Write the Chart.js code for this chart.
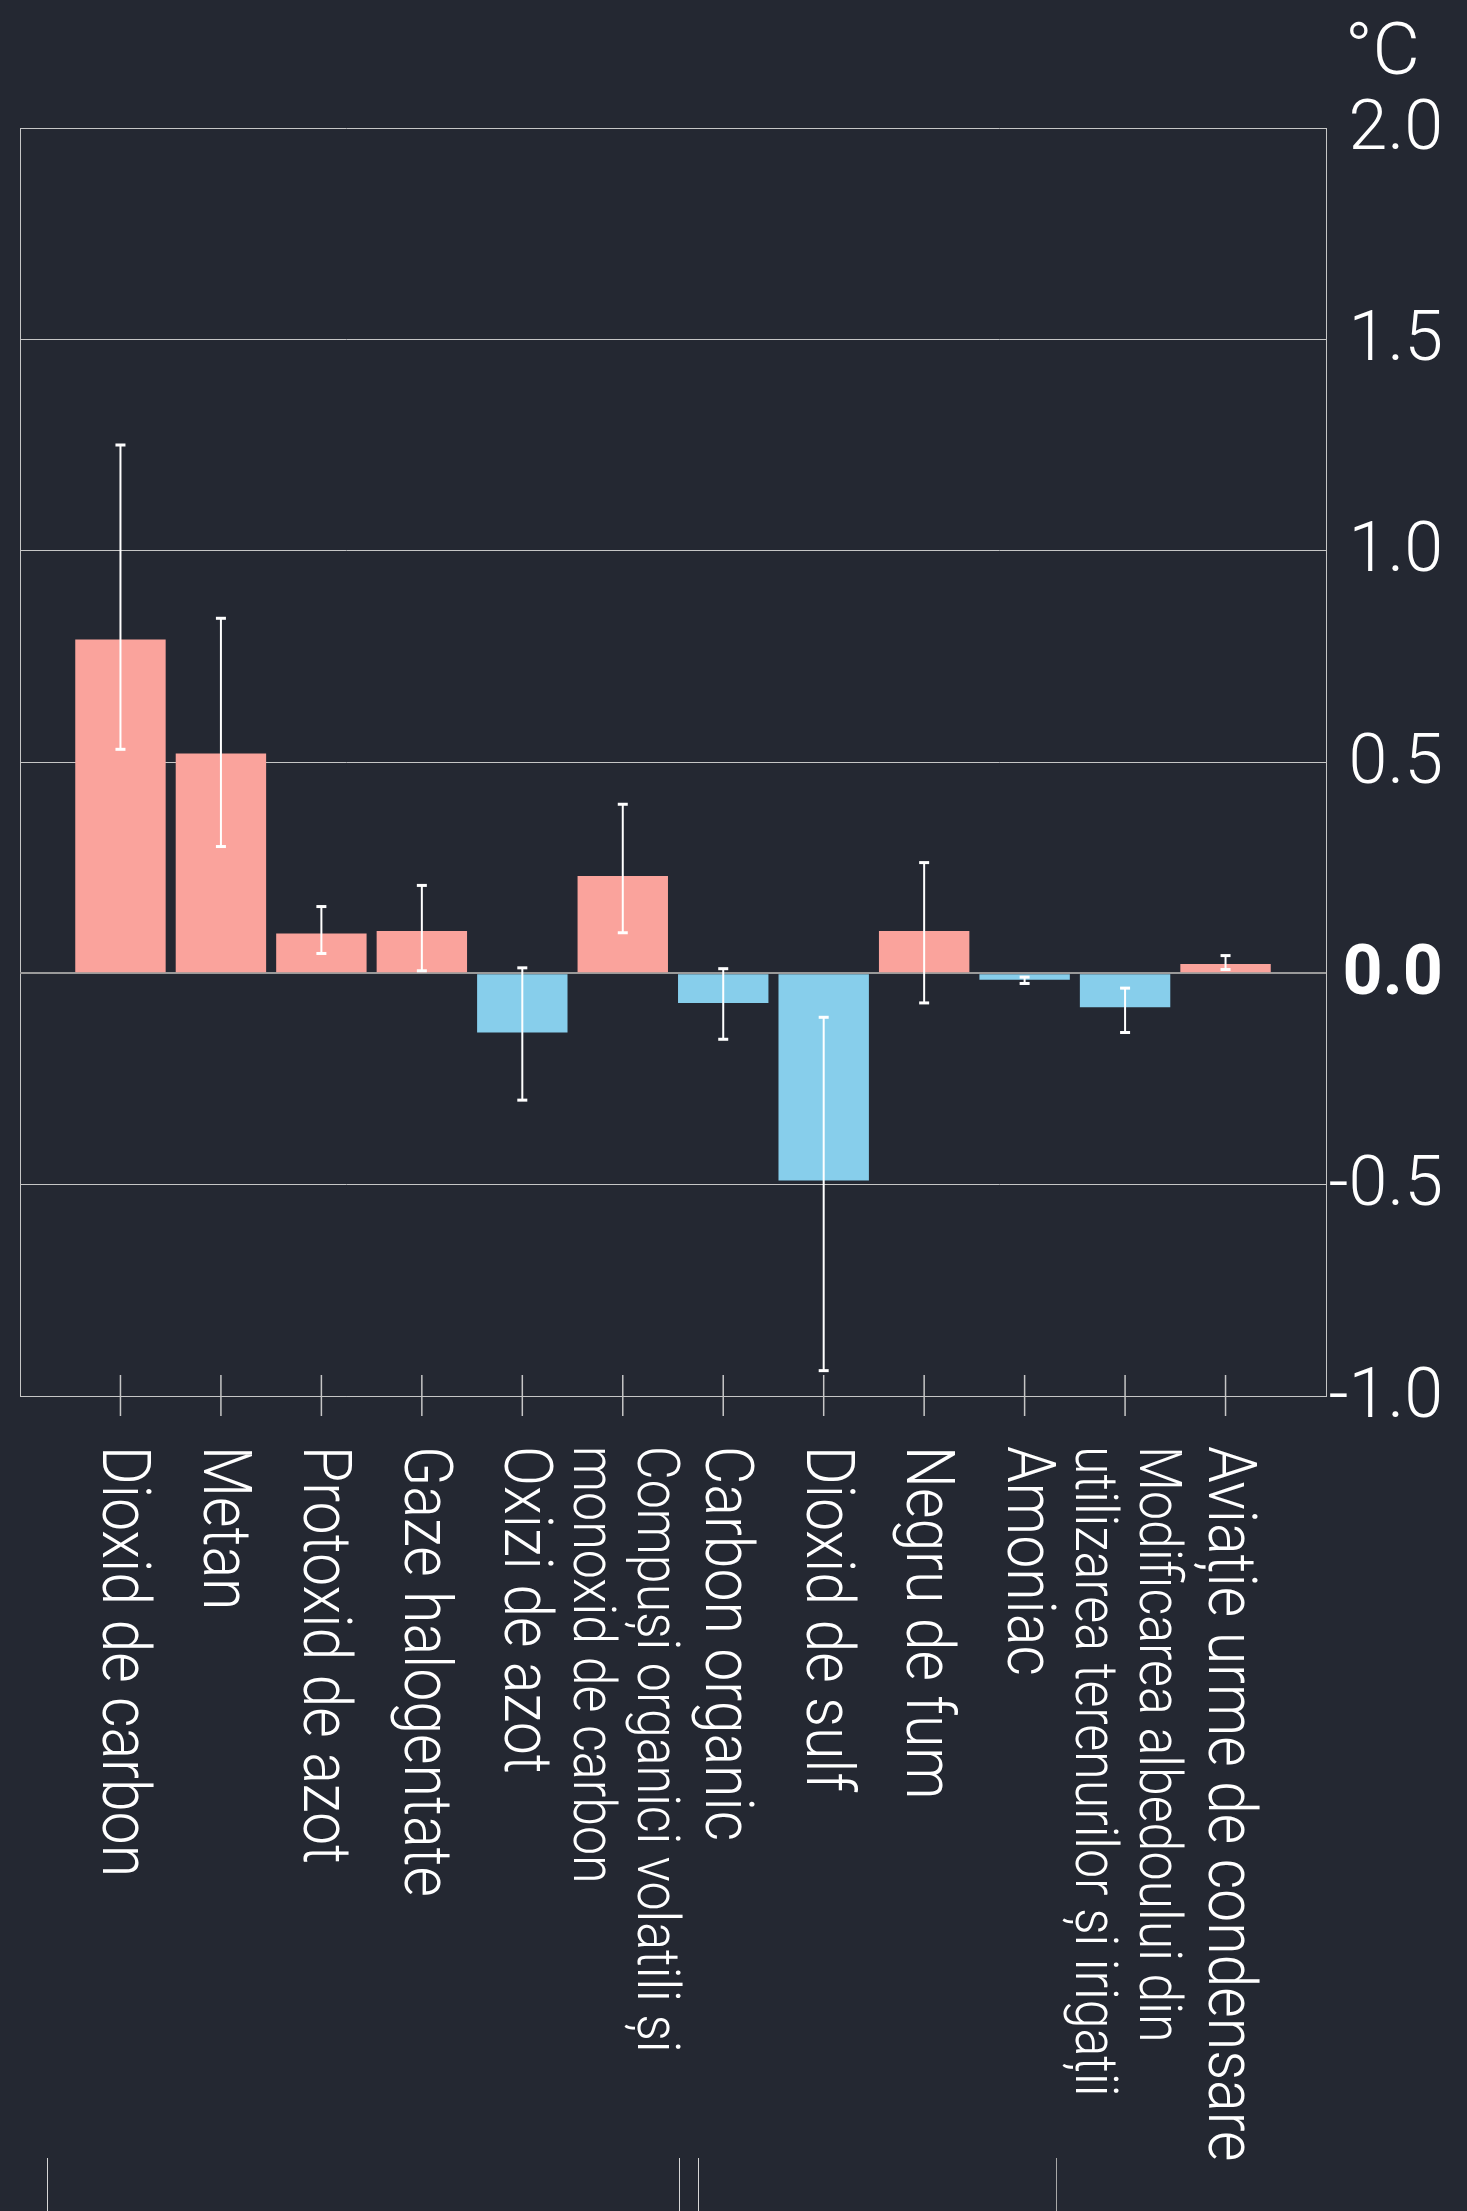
<!DOCTYPE html>
<html>
<head>
<meta charset="utf-8">
<title>Contribuții la încălzire</title>
<script src="https://cdn.jsdelivr.net/npm/chart.js@4.4.1/dist/chart.umd.min.js"></script>
<style>
  html, body { margin: 0; padding: 0; background: #242832; overflow: hidden; }
  #wrap { position: relative; width: 1467px; height: 2211px; }
  .rule { position: absolute; top: 2158px; width: 1px; height: 53px; background: #d6d6d6; }
</style>
</head>
<body>
<div id="wrap">
  <canvas id="chart"></canvas>
  <div class="rule" style="left:47px"></div>
  <div class="rule" style="left:679px"></div>
  <div class="rule" style="left:698px"></div>
  <div class="rule" style="left:1056px; background:#a8a8a8"></div>
</div>
<script>
// categories (two-line labels as arrays)
var categories = [
  'Dioxid de carbon',
  'Metan',
  'Protoxid de azot',
  'Gaze halogentate',
  'Oxizi de azot',
  ['Compuși organici volatili și', 'monoxid de carbon'],
  'Carbon organic',
  'Dioxid de sulf',
  'Negru de fum',
  'Amoniac',
  ['Modificarea albedoului din', 'utilizarea terenurilor și irigații'],
  'Aviație urme de condensare'
];
var warming = [0.79, 0.52, 0.094, 0.10, -0.14, 0.23, -0.07, -0.49, 0.10, -0.015, -0.08, 0.022];
var errLow  = [0.53, 0.30, 0.047, 0.006, -0.30, 0.096, -0.156, -0.94, -0.07, -0.024, -0.14, 0.009];
var errHigh = [1.25, 0.84, 0.158, 0.208, 0.013, 0.40, 0.011, -0.104, 0.262, -0.009, -0.035, 0.042];
var yTicks = [-1.0, -0.5, 0.0, 0.5, 1.0, 1.5, 2.0];
var unitLabel = '°C';

var warmColor = '#faa39c';
var coolColor = '#87ceeb';
var lineColor = '#c6c6c6';

// empty slot at both ends so the bars sit one step in from the frame
var labels = [''].concat(categories, ['']);
var values = [null].concat(warming, [null]);

var extras = {
  id: 'extras',
  afterDatasetsDraw: function(chart) {
    var ctx = chart.ctx;
    var y = chart.scales.y;
    var meta = chart.getDatasetMeta(0);
    ctx.save();
    ctx.strokeStyle = '#ffffff';
    ctx.fillStyle = '#ffffff';
    ctx.lineWidth = 2;
    meta.data.forEach(function(bar, i) {
      var k = i - 1;
      if (k < 0 || k >= categories.length) return;
      var x = bar.x;
      var top = y.getPixelForValue(errHigh[k]);
      var bot = y.getPixelForValue(errLow[k]);
      ctx.beginPath();
      ctx.moveTo(x, top);
      ctx.lineTo(x, bot);
      ctx.stroke();
      ctx.fillRect(x - 5, top - 1.5, 10, 3);
      ctx.fillRect(x - 5, bot - 1.5, 10, 3);
    });
    ctx.restore();
  },
  afterDraw: function(chart) {
    var ctx = chart.ctx;
    var xs = chart.scales.x;
    var bottom = chart.chartArea.bottom;
    ctx.save();
    // tick marks crossing the bottom axis
    ctx.strokeStyle = lineColor;
    ctx.lineWidth = 1.5;
    for (var i = 1; i <= categories.length; i++) {
      var px = xs.getPixelForTick(i);
      ctx.beginPath();
      ctx.moveTo(px, bottom - 21);
      ctx.lineTo(px, bottom + 20);
      ctx.stroke();
    }
    // category labels, turned to read top to bottom (wrapped ones are smaller)
    ctx.fillStyle = '#ffffff';
    ctx.textAlign = 'left';
    ctx.textBaseline = 'alphabetic';
    for (var j = 1; j <= categories.length; j++) {
      var lines = [].concat(chart.data.labels[j]);
      var n = lines.length;
      ctx.font = n > 1 ? '300 59px Roboto' : '300 67px Roboto';
      ctx.save();
      ctx.translate(xs.getPixelForTick(j), bottom + 50);
      ctx.rotate(Math.PI / 2);
      ctx.scale(0.88, 1);
      lines.forEach(function(t, m) {
        ctx.fillText(t, 0, 17 - ((n - 1) / 2 - m) * 64);
      });
      ctx.restore();
    }
    // unit above the value axis
    ctx.font = '300 73px Roboto';
    ctx.textAlign = 'right';
    ctx.fillText(unitLabel, chart.width - 47, 74);
    ctx.restore();
  }
};

var ctx = document.getElementById('chart').getContext('2d');
var chart = new Chart(ctx, {
  type: 'bar',
  data: {
    labels: labels,
    datasets: [{
      label: '°C',
      data: values,
      backgroundColor: values.map(function(v) { return v !== null && v < 0 ? coolColor : warmColor; }),
      borderWidth: 0,
      categoryPercentage: 1,
      barPercentage: 0.9
    }]
  },
  options: {
    responsive: true,
    maintainAspectRatio: false,
    animation: false,
    layout: { padding: { top: 128, left: 20, right: 24, bottom: 0 } },
    plugins: {
      legend: { display: false },
      tooltip: { enabled: false }
    },
    scales: {
      x: {
        offset: false,
        grid: {
          offset: false,
          drawTicks: false,
          color: function(c) {
            return (c.index === 0 || c.index === labels.length - 1) ? lineColor : 'rgba(0,0,0,0)';
          }
        },
        border: { display: true, color: lineColor },
        ticks: { display: false },
        afterFit: function(scale) { scale.height = 2211 - 1396; }
      },
      y: {
        position: 'right',
        min: -1,
        max: 2,
        afterBuildTicks: function(scale) {
          scale.ticks = yTicks.map(function(v) { return { value: v }; });
        },
        afterFit: function(scale) { scale.width = 117; },
        grid: {
          drawTicks: false,
          color: function(c) { return c.tick && c.tick.value === 0 ? '#9a9a9a' : lineColor; },
          lineWidth: function(c) { return c.tick && c.tick.value === 0 ? 2 : 1; }
        },
        border: { display: true, color: lineColor },
        ticks: {
          color: '#ffffff',
          padding: 2,
          crossAlign: 'far',
          labelOffset: 3,
          font: function(c) {
            return { family: 'Roboto', size: 70, weight: c.tick && c.tick.value === 0 ? 'bold' : '300' };
          },
          callback: function(v) { return Number(v).toFixed(1); }
        }
      }
    }
  },
  plugins: [extras]
});
</script>
</body>
</html>
